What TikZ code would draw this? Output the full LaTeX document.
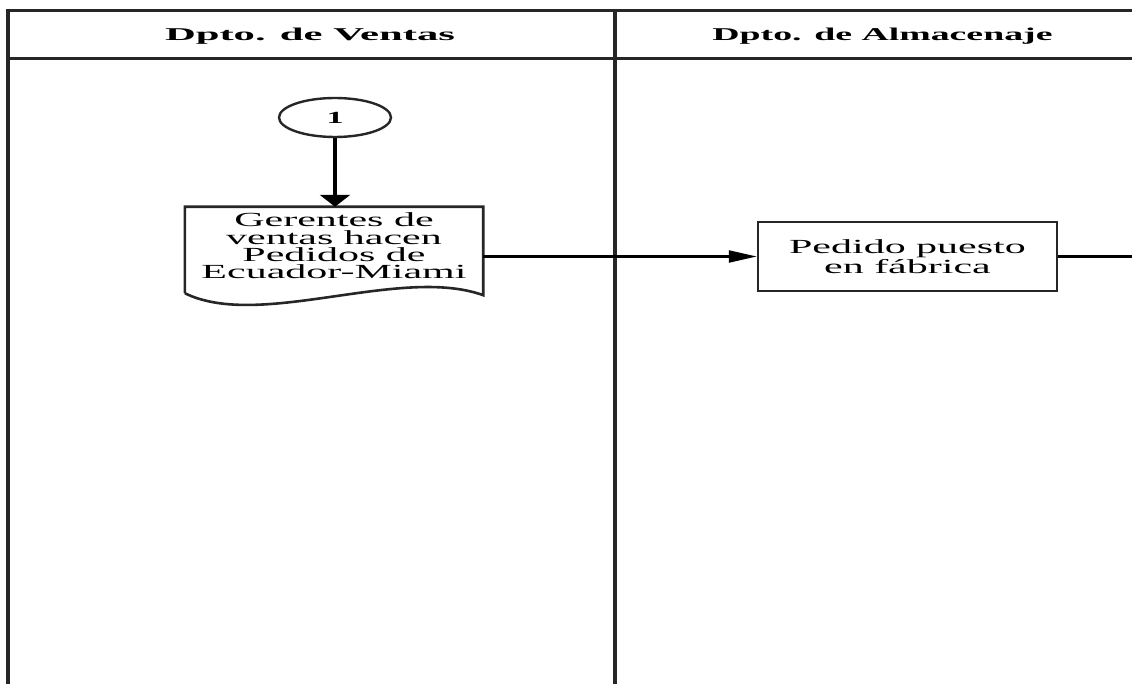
\documentclass[tikz,border=0pt]{standalone}
\usepackage{fontspec}
\setmainfont{Liberation Serif}[FakeStretch=2.1]
\newfontfamily\hdrfont{Liberation Serif}
\usetikzlibrary{arrows.meta,calc,shapes.geometric}
\begin{document}
\begin{tikzpicture}[x=1pt,y=-1pt,
  laneline/.style={draw=black!85},
  hdr/.style={font=\hdrfont\bfseries\fontsize{18}{20}\selectfont, inner sep=0pt},
  body/.style={font=\fontsize{20}{17.4}\selectfont, align=center, inner sep=0pt},
  connector/.style={draw=black, line width=2.2pt},
  procbox/.style={draw=black!85, line width=2.5pt, body},
  startcirc/.style={draw=black!85, ellipse, line width=2.4pt, inner sep=0pt,
    font=\hdrfont\bfseries\fontsize{17}{20}\selectfont}]
\useasboundingbox (0,0) rectangle (1132,684);
% swimlanes
\draw[laneline, line width=2.6pt] (8,10.5) -- (1132,10.5);
\draw[laneline, line width=2.6pt] (8,58.5) -- (1132,58.5);
\draw[laneline, line width=3.5pt] (8,9.5) -- (8,684);
\draw[laneline, line width=4pt] (614.5,9.5) -- (614.5,684);
\node[hdr] (h1) at (310,36) {\scalebox{2.37}[1]{Dpto. de Ventas}};
\node[hdr] (h2) at (882.5,36) {\scalebox{2.1}[1]{Dpto. de Almacenaje}};
% start connector
\node[startcirc, minimum width=112pt, minimum height=39pt] (c1) at (335,117.5) {\scalebox{2}[1]{1}};
% document
\node[body, minimum width=298pt, minimum height=78pt] (doc) at (334,246)
  {Gerentes de\\ventas hacen\\Pedidos de\\Ecuador-Miami};
\draw[draw=black!85, line width=2.6pt]
  ($(doc.south west)+(0,8)$) -- (doc.north west) -- (doc.north east) -- ($(doc.south east)+(0,10)$)
  .. controls ($(doc.south east)+(-83,-20)$) and ($(doc.south west)+(75,45)$) .. ($(doc.south west)+(0,8)$);
% process box
\node[procbox, minimum width=299pt, minimum height=69pt] (box) at (907.5,256.5) {Pedido puesto\\en fábrica};
\coordinate (exit) at (1132,256.5);
% connectors
\draw[connector, line width=3.4pt, -{Triangle[length=12pt,width=30pt]}] (c1.south) -- (c1.south |- doc.north);
\draw[connector, -{Triangle[length=28pt,width=12pt]}] (doc.east |- box.west) -- (box.west);
\draw[connector] (box.east) -- (exit);
\end{tikzpicture}
\end{document}
